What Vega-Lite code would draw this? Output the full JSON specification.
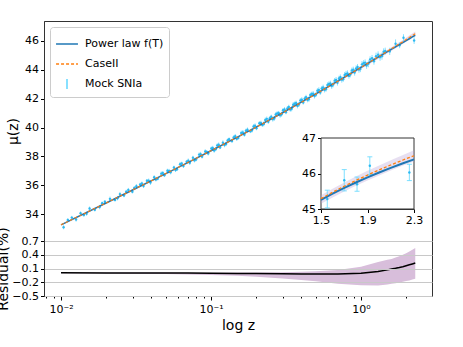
{
  "$schema": "https://vega.github.io/schema/vega-lite/v6.json",
  "padding": {"left": -4, "top": 20, "right": 5, "bottom": 5},
  "background": "white",
  "spacing": 0,
  "bounds": "flush",
  "config": {
    "font": "DejaVu Sans",
    "view": {"stroke": "#333", "strokeWidth": 1},
    "axis": {"labelFont": "DejaVu Sans", "labelFontSize": 11, "labelColor": "#000", "titleFont": "DejaVu Sans", "titleFontWeight": "normal", "titleFontSize": 14, "titleColor": "#000", "tickColor": "#000", "domainColor": "#333", "tickSize": 3.5, "grid": false, "labelPadding": 2, "labelOverlap": false, "labelFlush": false, "tickCount": 100},
    "legend": {"orient": "top-left", "offset": 6, "padding": 5, "fillColor": "white", "strokeColor": "#cccccc", "cornerRadius": 3, "labelFont": "DejaVu Sans", "labelFontSize": 11, "labelColor": "#000", "symbolType": "stroke", "symbolSize": 480, "symbolStrokeWidth": 1.5, "rowPadding": 3, "labelOffset": 6}
  },
  "datasets": {
    "curve": [
      {"z": 0.01, "pl": 33.245, "c2": 33.247, "mlo": 33.243, "mhi": 33.248, "r": 0.005, "rlo": -0.005, "rhi": 0.01},
      {"z": 0.02, "pl": 34.767, "c2": 34.768, "mlo": 34.764, "mhi": 34.771, "r": 0.004, "rlo": -0.01, "rhi": 0.012},
      {"z": 0.03, "pl": 35.664, "c2": 35.665, "mlo": 35.659, "mhi": 35.668, "r": 0.003, "rlo": -0.013, "rhi": 0.012},
      {"z": 0.05, "pl": 36.805, "c2": 36.806, "mlo": 36.798, "mhi": 36.809, "r": 0.002, "rlo": -0.02, "rhi": 0.012},
      {"z": 0.07, "pl": 37.567, "c2": 37.567, "mlo": 37.556, "mhi": 37.571, "r": 0.0, "rlo": -0.03, "rhi": 0.01},
      {"z": 0.1, "pl": 38.385, "c2": 38.384, "mlo": 38.37, "mhi": 38.389, "r": -0.003, "rlo": -0.04, "rhi": 0.01},
      {"z": 0.15, "pl": 39.336, "c2": 39.333, "mlo": 39.312, "mhi": 39.341, "r": -0.007, "rlo": -0.06, "rhi": 0.012},
      {"z": 0.2, "pl": 40.026, "c2": 40.022, "mlo": 39.994, "mhi": 40.032, "r": -0.01, "rlo": -0.08, "rhi": 0.015},
      {"z": 0.3, "pl": 41.025, "c2": 41.018, "mlo": 40.976, "mhi": 41.033, "r": -0.016, "rlo": -0.12, "rhi": 0.02},
      {"z": 0.4, "pl": 41.754, "c2": 41.746, "mlo": 41.691, "mhi": 41.767, "r": -0.02, "rlo": -0.15, "rhi": 0.03},
      {"z": 0.5, "pl": 42.331, "c2": 42.322, "mlo": 42.255, "mhi": 42.348, "r": -0.022, "rlo": -0.18, "rhi": 0.04},
      {"z": 0.7, "pl": 43.217, "c2": 43.208, "mlo": 43.118, "mhi": 43.247, "r": -0.02, "rlo": -0.23, "rhi": 0.07},
      {"z": 1.0, "pl": 44.17, "c2": 44.168, "mlo": 44.053, "mhi": 44.232, "r": -0.005, "rlo": -0.265, "rhi": 0.14},
      {"z": 1.3, "pl": 44.875, "c2": 44.891, "mlo": 44.754, "mhi": 44.983, "r": 0.035, "rlo": -0.27, "rhi": 0.24},
      {"z": 1.5, "pl": 45.259, "c2": 45.291, "mlo": 45.146, "mhi": 45.39, "r": 0.07, "rlo": -0.25, "rhi": 0.29},
      {"z": 1.6, "pl": 45.432, "c2": 45.473, "mlo": 45.325, "mhi": 45.573, "r": 0.09, "rlo": -0.235, "rhi": 0.31},
      {"z": 1.7, "pl": 45.594, "c2": 45.642, "mlo": 45.494, "mhi": 45.749, "r": 0.105, "rlo": -0.22, "rhi": 0.34},
      {"z": 1.8, "pl": 45.747, "c2": 45.803, "mlo": 45.653, "mhi": 45.916, "r": 0.122, "rlo": -0.205, "rhi": 0.37},
      {"z": 1.9, "pl": 45.891, "c2": 45.955, "mlo": 45.804, "mhi": 46.075, "r": 0.14, "rlo": -0.19, "rhi": 0.4},
      {"z": 2.0, "pl": 46.027, "c2": 46.101, "mlo": 45.946, "mhi": 46.227, "r": 0.16, "rlo": -0.175, "rhi": 0.435},
      {"z": 2.1, "pl": 46.157, "c2": 46.24, "mlo": 46.083, "mhi": 46.374, "r": 0.18, "rlo": -0.16, "rhi": 0.47},
      {"z": 2.2, "pl": 46.28, "c2": 46.373, "mlo": 46.215, "mhi": 46.516, "r": 0.2, "rlo": -0.14, "rhi": 0.51},
      {"z": 2.3, "pl": 46.398, "c2": 46.5, "mlo": 46.34, "mhi": 46.653, "r": 0.22, "rlo": -0.125, "rhi": 0.55}
    ],
    "mock": [
      {"z": 0.0104, "mu": 33.08, "e": 0.14}, {"z": 0.0118, "mu": 33.75, "e": 0.12}, {"z": 0.0126, "mu": 33.62, "e": 0.15}, {"z": 0.0135, "mu": 34.05, "e": 0.13},
      {"z": 0.0142, "mu": 33.93, "e": 0.12}, {"z": 0.0155, "mu": 34.38, "e": 0.14}, {"z": 0.0168, "mu": 34.3, "e": 0.13}, {"z": 0.0181, "mu": 34.48, "e": 0.15},
      {"z": 0.0196, "mu": 34.85, "e": 0.12}, {"z": 0.0212, "mu": 35.05, "e": 0.16}, {"z": 0.0229, "mu": 34.98, "e": 0.13}, {"z": 0.0247, "mu": 35.38, "e": 0.15},
      {"z": 0.0263, "mu": 35.28, "e": 0.12}, {"z": 0.0281, "mu": 35.67, "e": 0.14}, {"z": 0.0299, "mu": 35.55, "e": 0.13}, {"z": 0.0318, "mu": 35.93, "e": 0.15},
      {"z": 0.0337, "mu": 36.05, "e": 0.12}, {"z": 0.0355, "mu": 35.94, "e": 0.14}, {"z": 0.0374, "mu": 36.3, "e": 0.13}, {"z": 0.0395, "mu": 36.18, "e": 0.16},
      {"z": 0.0418, "mu": 36.55, "e": 0.14}, {"z": 0.0441, "mu": 36.45, "e": 0.12}, {"z": 0.0466, "mu": 36.8, "e": 0.15}, {"z": 0.0489, "mu": 36.69, "e": 0.13},
      {"z": 0.0512, "mu": 37.0, "e": 0.14}, {"z": 0.0538, "mu": 36.9, "e": 0.15}, {"z": 0.0566, "mu": 37.22, "e": 0.13}, {"z": 0.0593, "mu": 37.1, "e": 0.12},
      {"z": 0.0622, "mu": 37.45, "e": 0.16}, {"z": 0.0655, "mu": 37.33, "e": 0.14}, {"z": 0.0688, "mu": 37.62, "e": 0.13}, {"z": 0.0722, "mu": 37.55, "e": 0.15},
      {"z": 0.0758, "mu": 37.9, "e": 0.14}, {"z": 0.0795, "mu": 37.78, "e": 0.12}, {"z": 0.0833, "mu": 38.12, "e": 0.15}, {"z": 0.0872, "mu": 37.98, "e": 0.13},
      {"z": 0.0915, "mu": 38.33, "e": 0.16}, {"z": 0.0958, "mu": 38.2, "e": 0.14}, {"z": 0.1005, "mu": 38.55, "e": 0.13}, {"z": 0.105, "mu": 38.4, "e": 0.15},
      {"z": 0.11, "mu": 38.76, "e": 0.14}, {"z": 0.115, "mu": 38.62, "e": 0.12}, {"z": 0.12, "mu": 38.95, "e": 0.16}, {"z": 0.126, "mu": 38.85, "e": 0.15},
      {"z": 0.132, "mu": 39.18, "e": 0.13}, {"z": 0.138, "mu": 39.06, "e": 0.14}, {"z": 0.145, "mu": 39.4, "e": 0.15}, {"z": 0.152, "mu": 39.28, "e": 0.13},
      {"z": 0.159, "mu": 39.62, "e": 0.16}, {"z": 0.167, "mu": 39.5, "e": 0.14}, {"z": 0.175, "mu": 39.85, "e": 0.15}, {"z": 0.183, "mu": 39.74, "e": 0.13},
      {"z": 0.192, "mu": 40.07, "e": 0.16}, {"z": 0.201, "mu": 39.95, "e": 0.14}, {"z": 0.21, "mu": 40.3, "e": 0.15}, {"z": 0.22, "mu": 40.18, "e": 0.13},
      {"z": 0.23, "mu": 40.52, "e": 0.17}, {"z": 0.241, "mu": 40.4, "e": 0.15}, {"z": 0.252, "mu": 40.75, "e": 0.14}, {"z": 0.264, "mu": 40.62, "e": 0.16},
      {"z": 0.276, "mu": 40.98, "e": 0.15}, {"z": 0.289, "mu": 40.85, "e": 0.17}, {"z": 0.302, "mu": 41.2, "e": 0.15}, {"z": 0.316, "mu": 41.06, "e": 0.14},
      {"z": 0.33, "mu": 41.42, "e": 0.16}, {"z": 0.345, "mu": 41.3, "e": 0.18}, {"z": 0.361, "mu": 41.65, "e": 0.15}, {"z": 0.377, "mu": 41.5, "e": 0.17},
      {"z": 0.394, "mu": 41.88, "e": 0.16}, {"z": 0.412, "mu": 41.74, "e": 0.15}, {"z": 0.43, "mu": 42.1, "e": 0.17}, {"z": 0.449, "mu": 41.96, "e": 0.18},
      {"z": 0.469, "mu": 42.32, "e": 0.16}, {"z": 0.49, "mu": 42.18, "e": 0.17}, {"z": 0.512, "mu": 42.55, "e": 0.18}, {"z": 0.535, "mu": 42.42, "e": 0.16},
      {"z": 0.559, "mu": 42.78, "e": 0.19}, {"z": 0.584, "mu": 42.65, "e": 0.17}, {"z": 0.611, "mu": 43.02, "e": 0.18}, {"z": 0.638, "mu": 42.88, "e": 0.2},
      {"z": 0.667, "mu": 43.25, "e": 0.18}, {"z": 0.697, "mu": 43.1, "e": 0.19}, {"z": 0.728, "mu": 43.48, "e": 0.2}, {"z": 0.761, "mu": 43.35, "e": 0.18},
      {"z": 0.795, "mu": 43.72, "e": 0.21}, {"z": 0.831, "mu": 43.58, "e": 0.19}, {"z": 0.868, "mu": 43.95, "e": 0.2}, {"z": 0.907, "mu": 43.82, "e": 0.22},
      {"z": 0.948, "mu": 44.2, "e": 0.2}, {"z": 0.99, "mu": 44.05, "e": 0.21}, {"z": 1.04, "mu": 44.45, "e": 0.22}, {"z": 1.09, "mu": 44.3, "e": 0.23},
      {"z": 1.15, "mu": 44.72, "e": 0.22}, {"z": 1.22, "mu": 44.6, "e": 0.24}, {"z": 1.3, "mu": 45.05, "e": 0.23}, {"z": 1.38, "mu": 44.95, "e": 0.25},
      {"z": 1.45, "mu": 45.3, "e": 0.24}, {"z": 1.554, "mu": 45.28, "e": 0.25}, {"z": 1.7, "mu": 45.81, "e": 0.3}, {"z": 1.81, "mu": 45.7, "e": 0.2},
      {"z": 1.92, "mu": 46.22, "e": 0.25}, {"z": 2.26, "mu": 46.03, "e": 0.23},
      {"z": 0.0111, "mu": 33.58, "e": 0.13}, {"z": 0.0148, "mu": 34.02, "e": 0.14}, {"z": 0.0188, "mu": 34.75, "e": 0.12}, {"z": 0.0238, "mu": 35.1, "e": 0.15},
      {"z": 0.0272, "mu": 35.55, "e": 0.13}, {"z": 0.0308, "mu": 35.8, "e": 0.14}, {"z": 0.0346, "mu": 36.12, "e": 0.13}, {"z": 0.0384, "mu": 36.31, "e": 0.15},
      {"z": 0.0429, "mu": 36.4, "e": 0.14}, {"z": 0.0477, "mu": 36.84, "e": 0.13}, {"z": 0.0525, "mu": 36.98, "e": 0.15}, {"z": 0.058, "mu": 37.05, "e": 0.14},
      {"z": 0.0638, "mu": 37.5, "e": 0.13}, {"z": 0.0705, "mu": 37.7, "e": 0.15}, {"z": 0.0776, "mu": 37.72, "e": 0.14}, {"z": 0.0852, "mu": 38.15, "e": 0.16},
      {"z": 0.0936, "mu": 38.3, "e": 0.13}, {"z": 0.1027, "mu": 38.58, "e": 0.15}, {"z": 0.1075, "mu": 38.5, "e": 0.14}, {"z": 0.1125, "mu": 38.8, "e": 0.16},
      {"z": 0.123, "mu": 38.78, "e": 0.15}, {"z": 0.129, "mu": 39.1, "e": 0.14}, {"z": 0.1415, "mu": 39.3, "e": 0.16}, {"z": 0.1485, "mu": 39.22, "e": 0.15},
      {"z": 0.163, "mu": 39.66, "e": 0.16}, {"z": 0.171, "mu": 39.78, "e": 0.14}, {"z": 0.1875, "mu": 39.8, "e": 0.15}, {"z": 0.1965, "mu": 40.12, "e": 0.16},
      {"z": 0.215, "mu": 40.32, "e": 0.15}, {"z": 0.225, "mu": 40.25, "e": 0.17}, {"z": 0.2355, "mu": 40.6, "e": 0.16}, {"z": 0.2465, "mu": 40.65, "e": 0.15},
      {"z": 0.258, "mu": 40.58, "e": 0.17}, {"z": 0.27, "mu": 40.9, "e": 0.16}, {"z": 0.2825, "mu": 41.0, "e": 0.15}, {"z": 0.2955, "mu": 40.92, "e": 0.17},
      {"z": 0.309, "mu": 41.25, "e": 0.16}, {"z": 0.323, "mu": 41.32, "e": 0.17}, {"z": 0.3375, "mu": 41.25, "e": 0.16}, {"z": 0.353, "mu": 41.58, "e": 0.18},
      {"z": 0.369, "mu": 41.7, "e": 0.16}, {"z": 0.3855, "mu": 41.6, "e": 0.17}, {"z": 0.403, "mu": 41.92, "e": 0.18}, {"z": 0.421, "mu": 42.0, "e": 0.16},
      {"z": 0.4395, "mu": 41.93, "e": 0.18}, {"z": 0.459, "mu": 42.25, "e": 0.17}, {"z": 0.4795, "mu": 42.35, "e": 0.18}, {"z": 0.501, "mu": 42.28, "e": 0.17},
      {"z": 0.5235, "mu": 42.6, "e": 0.19}, {"z": 0.547, "mu": 42.7, "e": 0.18}, {"z": 0.5715, "mu": 42.62, "e": 0.19}, {"z": 0.5975, "mu": 42.95, "e": 0.18},
      {"z": 0.6245, "mu": 43.05, "e": 0.2}, {"z": 0.6525, "mu": 42.98, "e": 0.19}, {"z": 0.682, "mu": 43.3, "e": 0.2}, {"z": 0.7125, "mu": 43.4, "e": 0.19},
      {"z": 0.7445, "mu": 43.32, "e": 0.21}, {"z": 0.778, "mu": 43.65, "e": 0.2}, {"z": 0.813, "mu": 43.75, "e": 0.21}, {"z": 0.8495, "mu": 43.68, "e": 0.2},
      {"z": 0.8875, "mu": 44.0, "e": 0.22}, {"z": 0.9275, "mu": 44.1, "e": 0.21}, {"z": 0.969, "mu": 44.02, "e": 0.22}, {"z": 1.015, "mu": 44.38, "e": 0.23},
      {"z": 1.065, "mu": 44.5, "e": 0.22}, {"z": 1.12, "mu": 44.42, "e": 0.24}, {"z": 1.185, "mu": 44.8, "e": 0.23}, {"z": 1.26, "mu": 44.95, "e": 0.24},
      {"z": 1.34, "mu": 44.88, "e": 0.25}, {"z": 1.415, "mu": 45.25, "e": 0.24}
    ],
    "frame": [{"x0": 1.5, "x1": 2.3, "y0": 45, "y1": 47}]
  },
  "vconcat": [
    {
      "width": 388,
      "height": 220,
      "resolve": {"scale": {"x": "independent", "y": "independent"}},
      "layer": [
        {
          "layer": [
            {
              "data": {"name": "curve"},
              "mark": {"type": "area", "color": "#c9a8cf", "opacity": 0.45},
              "encoding": {
                "x": {"field": "z", "type": "quantitative", "scale": {"type": "log", "domain": [0.0077, 2.974], "nice": false}, "axis": null},
                "y": {"field": "mlo", "type": "quantitative", "title": "μ(z)", "scale": {"domain": [32.128, 47.387], "nice": false, "zero": false}, "axis": {"values": [34, 36, 38, 40, 42, 44, 46], "labelExpr": "format(datum.value, 'd')", "tickCount": 100, "title": "μ(z)", "titlePadding": 4}},
                "y2": {"field": "mhi"}
              }
            },
            {
              "data": {"name": "mock"},
              "mark": {"type": "errorbar", "opacity": 0.75, "thickness": 1},
              "encoding": {
                "x": {"field": "z", "type": "quantitative"},
                "y": {"field": "mu", "type": "quantitative", "title": "μ(z)"},
                "yError": {"field": "e"},
                "color": {
                  "datum": "Mock SNIa",
                  "type": "nominal",
                  "scale": {"domain": ["Power law f(T)", "CaseII", "Mock SNIa"], "range": ["#1f77b4", "#ff7f0e", "#5fd6ff"]},
                  "legend": {
                    "orient": "top-left", "offset": 6, "title": null, "fillColor": "white", "strokeColor": "#cccccc",
                    "padding": 5, "cornerRadius": 3, "labelFont": "DejaVu Sans", "labelFontSize": 11, "labelColor": "#000",
                    "symbolType": "stroke", "symbolSize": 480, "symbolStrokeWidth": 1.5, "rowPadding": 3, "labelOffset": 6,
                    "encode": {"symbols": {"update": {
                      "strokeDash": {"signal": "datum.value === 'CaseII' ? [3, 2] : []"},
                      "shape": {"signal": "datum.value === 'Mock SNIa' ? 'M0,-0.45L0,0.45' : 'stroke'"}
                    }}}
                  }
                }
              }
            },
            {
              "data": {"name": "mock"},
              "mark": {"type": "point", "filled": true, "size": 6, "color": "#1fb4f0", "opacity": 0.9},
              "encoding": {
                "x": {"field": "z", "type": "quantitative"},
                "y": {"field": "mu", "type": "quantitative", "title": "μ(z)"}
              }
            },
            {
              "data": {"name": "curve"},
              "mark": {"type": "line", "strokeWidth": 1.5},
              "encoding": {
                "x": {"field": "z", "type": "quantitative"},
                "y": {"field": "pl", "type": "quantitative", "title": "μ(z)"},
                "color": {"datum": "Power law f(T)", "type": "nominal",
                  "legend": {
                    "orient": "top-left", "offset": 6, "title": null, "fillColor": "white", "strokeColor": "#cccccc",
                    "padding": 5, "cornerRadius": 3, "labelFont": "DejaVu Sans", "labelFontSize": 11, "labelColor": "#000",
                    "symbolType": "stroke", "symbolSize": 480, "symbolStrokeWidth": 1.5, "rowPadding": 3, "labelOffset": 6,
                    "encode": {"symbols": {"update": {
                      "strokeDash": {"signal": "datum.value === 'CaseII' ? [3, 2] : []"},
                      "shape": {"signal": "datum.value === 'Mock SNIa' ? 'M0,-0.45L0,0.45' : 'stroke'"}
                    }}}
                  }}
              }
            },
            {
              "data": {"name": "curve"},
              "mark": {"type": "line", "strokeWidth": 1.1, "strokeDash": [3, 2]},
              "encoding": {
                "x": {"field": "z", "type": "quantitative"},
                "y": {"field": "c2", "type": "quantitative", "title": "μ(z)"},
                "color": {"datum": "CaseII", "type": "nominal",
                  "legend": {
                    "orient": "top-left", "offset": 6, "title": null, "fillColor": "white", "strokeColor": "#cccccc",
                    "padding": 5, "cornerRadius": 3, "labelFont": "DejaVu Sans", "labelFontSize": 11, "labelColor": "#000",
                    "symbolType": "stroke", "symbolSize": 480, "symbolStrokeWidth": 1.5, "rowPadding": 3, "labelOffset": 6,
                    "encode": {"symbols": {"update": {
                      "strokeDash": {"signal": "datum.value === 'CaseII' ? [3, 2] : []"},
                      "shape": {"signal": "datum.value === 'Mock SNIa' ? 'M0,-0.45L0,0.45' : 'stroke'"}
                    }}}
                  }}
              }
            }
          ]
        },
        {
          "layer": [
            {
              "data": {"name": "frame"},
              "mark": {"type": "rect", "fill": "white", "stroke": "#333", "strokeWidth": 1},
              "encoding": {
                "x": {"field": "x0", "type": "quantitative", "scale": {"domain": [1.5, 2.3], "range": [277, 370], "nice": false, "zero": false}, "axis": {"orient": "bottom", "offset": -32, "values": [1.5, 1.9, 2.3], "labelExpr": "format(datum.value, '.1f')", "tickCount": 100, "title": null}},
                "x2": {"field": "x1"},
                "y": {"field": "y0", "type": "quantitative", "scale": {"domain": [45, 47], "range": [188, 117], "nice": false, "zero": false}, "axis": {"orient": "left", "offset": -277, "values": [45, 46, 47], "labelExpr": "format(datum.value, 'd')", "tickCount": 100, "title": null}},
                "y2": {"field": "y1"}
              }
            },
            {
              "data": {"name": "curve"},
              "transform": [{"filter": "datum.z >= 1.5"}],
              "mark": {"type": "area", "color": "#b9a3d6", "opacity": 0.35},
              "encoding": {
                "x": {"field": "z", "type": "quantitative"},
                "y": {"field": "mlo", "type": "quantitative"},
                "y2": {"field": "mhi"}
              }
            },
            {
              "data": {"name": "mock"},
              "transform": [{"filter": "datum.z >= 1.5"}],
              "mark": {"type": "errorbar", "color": "#6fdcff", "opacity": 0.9, "thickness": 1, "ticks": {"size": 5}},
              "encoding": {
                "x": {"field": "z", "type": "quantitative"},
                "y": {"field": "mu", "type": "quantitative"},
                "yError": {"field": "e"}
              }
            },
            {
              "data": {"name": "mock"},
              "transform": [{"filter": "datum.z >= 1.5"}],
              "mark": {"type": "point", "filled": true, "size": 6, "color": "#1fb4f0", "opacity": 0.9},
              "encoding": {
                "x": {"field": "z", "type": "quantitative"},
                "y": {"field": "mu", "type": "quantitative"}
              }
            },
            {
              "data": {"name": "curve"},
              "transform": [{"filter": "datum.z >= 1.5"}],
              "mark": {"type": "line", "strokeWidth": 2, "color": "#1f77b4"},
              "encoding": {
                "x": {"field": "z", "type": "quantitative"},
                "y": {"field": "pl", "type": "quantitative"}
              }
            },
            {
              "data": {"name": "curve"},
              "transform": [{"filter": "datum.z >= 1.5"}],
              "mark": {"type": "line", "strokeWidth": 1.3, "strokeDash": [3, 2], "color": "#ff7f0e"},
              "encoding": {
                "x": {"field": "z", "type": "quantitative"},
                "y": {"field": "c2", "type": "quantitative"}
              }
            }
          ]
        }
      ]
    },
    {
      "width": 388,
      "height": 55,
      "data": {"name": "curve"},
      "resolve": {"axis": {"x": "independent"}},
      "layer": [
        {
          "mark": {"type": "area", "color": "#d8bedb", "opacity": 1},
          "encoding": {
            "x": {"field": "z", "type": "quantitative", "scale": {"type": "log", "domain": [0.0077, 2.974], "nice": false},
              "axis": {"orient": "bottom", "values": [0.01, 0.1, 1], "labelExpr": "datum.value < 0.05 ? '10⁻²' : datum.value < 0.5 ? '10⁻¹' : '10⁰'", "title": "log z", "tickSize": 4, "labelPadding": 3, "titlePadding": 4}},
            "y": {"field": "rlo", "type": "quantitative", "title": "Residual(%)", "scale": {"domain": [-0.5, 0.7], "nice": false, "zero": false},
              "axis": {"values": [-0.5, -0.2, 0.1, 0.4, 0.7], "labelExpr": "replace(format(datum.value, '.1f'), '-', '−')", "grid": true, "gridColor": "#c8c8c8", "zindex": 1, "title": "Residual(%)", "titlePadding": 1}},
            "y2": {"field": "rhi"}
          }
        },
        {
          "mark": {"type": "line", "color": "black", "strokeWidth": 1.5},
          "encoding": {
            "x": {"field": "z", "type": "quantitative", "scale": {"type": "log", "domain": [0.0077, 2.974], "nice": false},
              "axis": {"orient": "bottom", "values": [0.008, 0.009, 0.02, 0.03, 0.04, 0.05, 0.06, 0.07, 0.08, 0.09, 0.2, 0.3, 0.4, 0.5, 0.6, 0.7, 0.8, 0.9, 2], "labels": false, "tickSize": 2, "title": null, "domain": false}},
            "y": {"field": "r", "type": "quantitative", "title": "Residual(%)"}
          }
        }
      ]
    }
  ]
}
